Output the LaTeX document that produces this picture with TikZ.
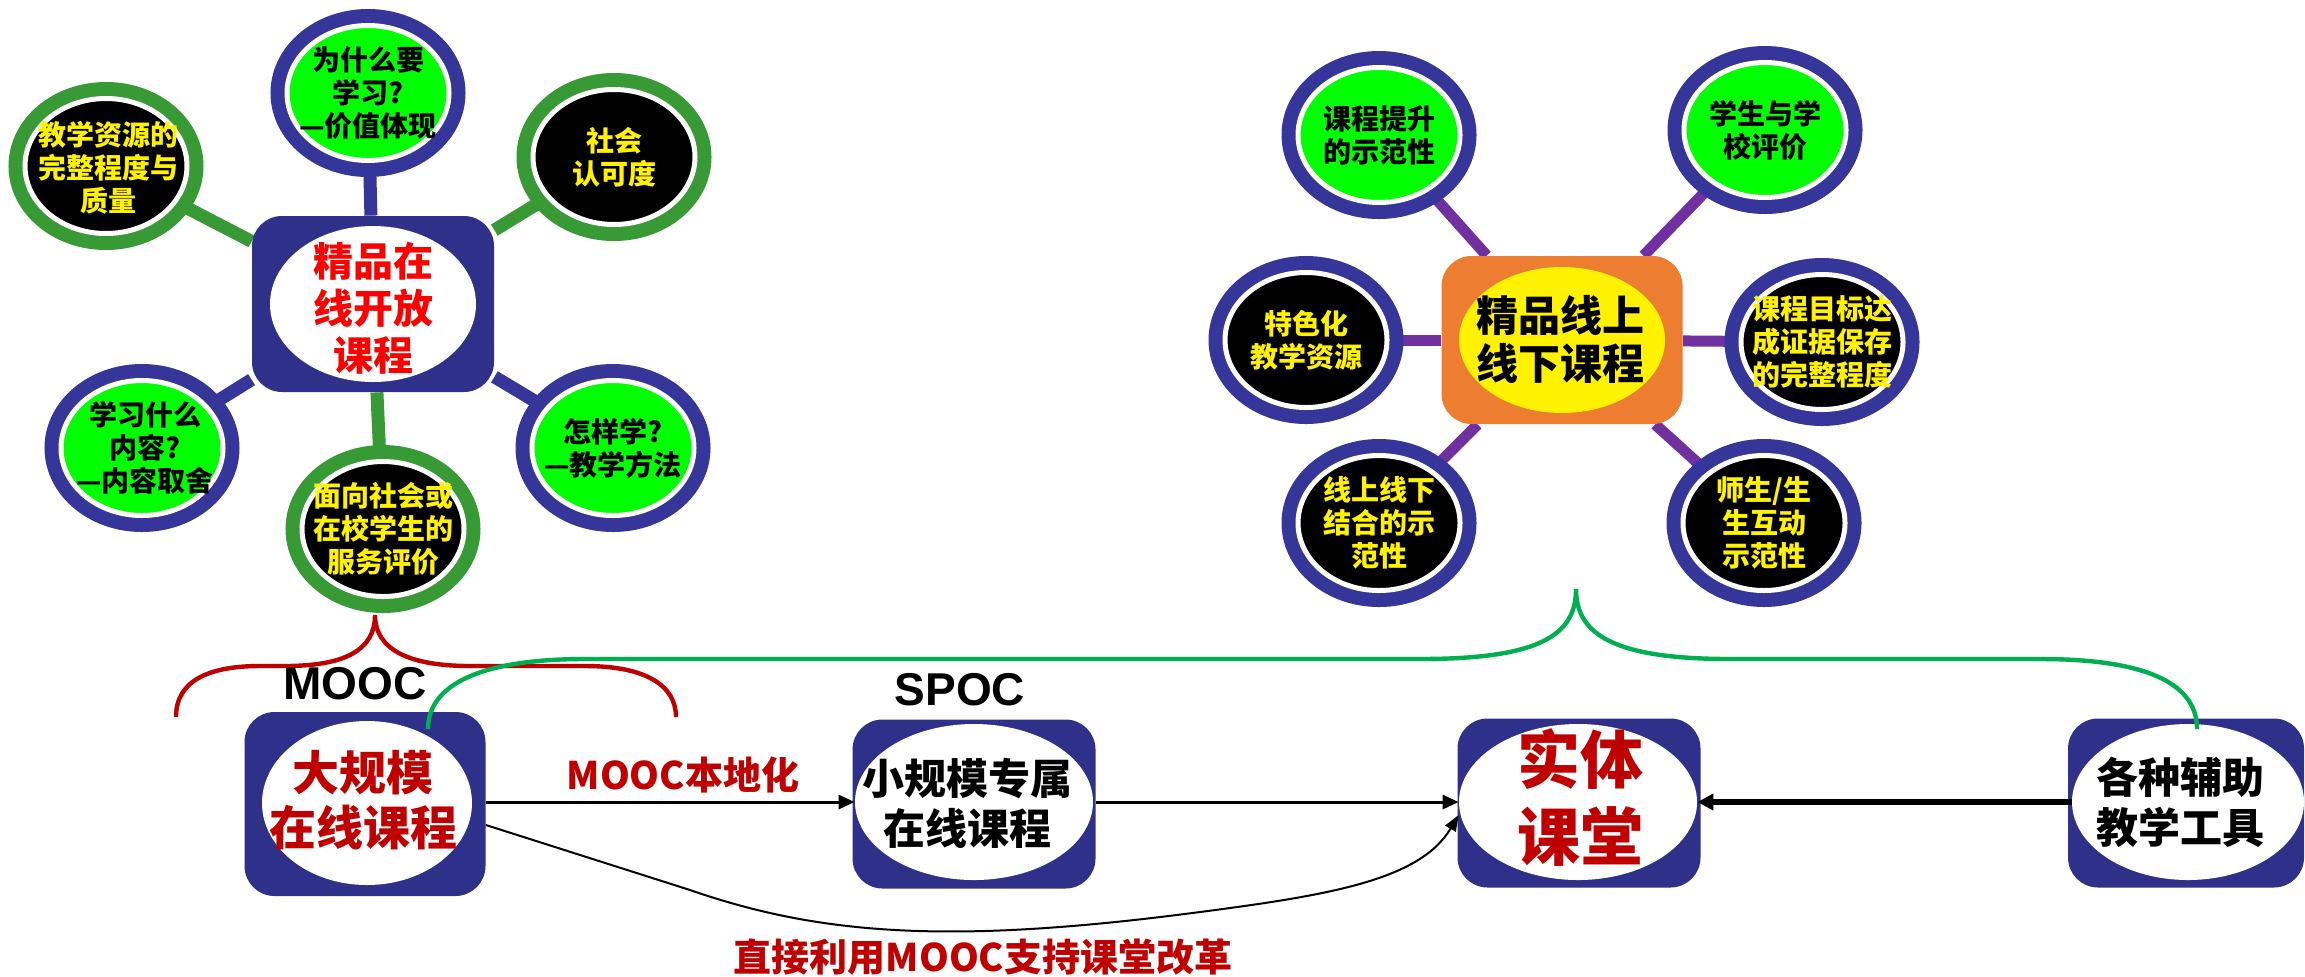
\documentclass[tikz,border=0pt]{standalone}
\usepackage{fontspec}
\setmainfont{Liberation Sans}
\newfontfamily\cjk{Noto Sans CJK SC}
\usetikzlibrary{shapes.geometric,arrows.meta}
\definecolor{navy}{HTML}{2E3089}
\definecolor{ringblue}{HTML}{35359A}
\definecolor{ringgreen}{HTML}{389A35}
\definecolor{lime}{HTML}{00FF00}
\definecolor{purp}{HTML}{7030A0}
\definecolor{dred}{HTML}{C00000}
\definecolor{bgreen}{HTML}{00B050}
\definecolor{orng}{HTML}{ED7D31}
\pgfdeclarelayer{bg}
\pgfsetlayers{bg,main}
\begin{document}
\begin{tikzpicture}[x=0.5pt,y=-0.5pt,
  bub/.style 2 args={ellipse, inner sep=0pt, minimum width=81pt, minimum height=67.5pt,
    fill=#2, draw=white, line width=2.5pt, preaction={draw=#1, line width=16.5pt}},
  ctext/.style={font=\cjk\bfseries\fontsize{14pt}{16.5pt}\selectfont, align=center, inner sep=0pt, text=#1},
  rbox/.style={rectangle, rounded corners=15pt, inner sep=0pt, fill=#1},
  wel/.style={ellipse, inner sep=0pt, fill=#1},
  lbar/.style={line width=6.5pt, draw=#1},
  rbar/.style={line width=5.5pt, draw=purp},
  bigtxt/.style 2 args={font=\cjk\bfseries\fontsize{#1pt}{#2pt}\selectfont, align=center, inner sep=0pt},
  arr/.style={-{Triangle[length=8pt,width=7pt]}, line width=1.5pt},
  latin/.style={font=\bfseries\fontsize{23pt}{27pt}\selectfont, inner sep=0pt},
  redlbl/.style={text=dred, font=\cjk\bfseries\fontsize{19pt}{22pt}\selectfont, inner sep=0pt}
]
\useasboundingbox (0,0) rectangle (2305,976);

% ---------- left cluster ----------
\node[rbox=navy, minimum width=121pt, minimum height=88pt] (lbox) at (373,304) {};
\node[wel=white, minimum width=103pt, minimum height=78pt] (lell) at (373,304) {};
\node[text=red, bigtxt={20}{23.5}] (ltxt) at (373,308) {精品在\\线开放\\课程};

\node[bub={ringblue}{lime}] (l1) at (368,93) {};
\node[ctext=black] (l1t) at (l1) {为什么要\\学习?\\—价值体现};
\node[bub={ringgreen}{black}] (l2) at (614,157) {};
\node[ctext=yellow] (l2t) at (l2) {社会\\认可度};
\node[bub={ringgreen}{black}] (l3) at (106,166) {};
\node[ctext=yellow] (l3t) at (108,168) {教学资源的\\完整程度与\\质量};
\node[bub={ringblue}{lime}] (l4) at (142,448) {};
\node[ctext=black] (l4t) at (145,448) {学习什么\\内容?\\—内容取舍};
\node[bub={ringblue}{lime}] (l5) at (613,448) {};
\node[ctext=black] (l5t) at (l5) {怎样学?\\—教学方法};
\node[bub={ringgreen}{black}] (l6) at (383,529) {};
\node[ctext=yellow] (l6t) at (l6) {面向社会或\\在校学生的\\服务评价};

% ---------- right cluster ----------
\node[rbox=orng, minimum width=120.5pt, minimum height=84pt] (rbx) at (1562,340) {};
\node[wel=yellow, minimum width=103pt, minimum height=73pt] (rell) at (1562,340) {};
\node[text=black, bigtxt={21}{24}] (rtxt) at (1560,339) {精品线上\\线下课程};

\node[bub={ringblue}{lime}] (r1) at (1379,135) {};
\node[ctext=black] (r1t) at (r1) {课程提升\\的示范性};
\node[bub={ringblue}{lime}] (r2) at (1765,130) {};
\node[ctext=black] (r2t) at (r2) {学生与学\\校评价};
\node[bub={ringblue}{black}] (r3) at (1306,340) {};
\node[ctext=yellow] (r3t) at (r3) {特色化\\教学资源};
\node[bub={ringblue}{black}] (r4) at (1822,342) {};
\node[ctext=yellow] (r4t) at (r4) {课程目标达\\成证据保存\\的完整程度};
\node[bub={ringblue}{black}] (r5) at (1379,523) {};
\node[ctext=yellow] (r5t) at (r5) {线上线下\\结合的示\\范性};
\node[bub={ringblue}{black}] (r6) at (1764,523) {};
\node[ctext=yellow] (r6t) at (r6) {师生/生\\生互动\\示范性};

% ---------- connectors of the clusters ----------
\begin{pgfonlayer}{bg}
\draw[lbar=ringblue] (l1) -- (lbox);
\draw[lbar=ringgreen] (l2) -- (lbox);
\draw[lbar=ringgreen] (l3) -- (lbox);
\draw[lbar=ringblue] (l4) -- (lbox);
\draw[lbar=ringblue] (l5) -- (lbox);
\draw[lbar=ringgreen] (l6) -- (lbox);
\draw[rbar] (r1) -- (rbx);
\draw[rbar] (r2) -- (rbx);
\draw[rbar] (r3) -- (rbx);
\draw[rbar] (r4) -- (rbx);
\draw[rbar] (r5) -- (rbx);
\draw[rbar] (r6) -- (rbx);
\end{pgfonlayer}

% ---------- bottom row ----------
\node[rbox=navy, minimum width=120.5pt, minimum height=92pt] (mooc) at (365,804) {};
\node[wel=white, minimum width=105pt, minimum height=82pt] (moocell) at (367,803) {};
\node[text=dred, bigtxt={23.5}{27.5}] (mooct) at (363,800) {大规模\\在线课程};

\node[rbox=navy, minimum width=121.5pt, minimum height=84.5pt] (spoc) at (974,804) {};
\node[wel=white, minimum width=119pt, minimum height=78pt] (spocell) at (974,802) {};
\node[text=black, bigtxt={21}{25}] (spoct) at (967,803) {小规模专属\\在线课程};

\node[rbox=navy, minimum width=121.5pt, minimum height=84.5pt] (shiti) at (1579,803) {};
\node[wel=white, minimum width=119pt, minimum height=78pt] (shitiell) at (1578,802) {};
\node[text=dred, bigtxt={31.5}{38.5}] (shitit) at (1580,798) {实体\\课堂};

\node[rbox=navy, minimum width=118pt, minimum height=84.5pt] (tools) at (2186,803) {};
\node[wel=white, minimum width=116pt, minimum height=78pt] (toolsell) at (2188,802) {};
\node[text=black, bigtxt={21}{25}] (toolst) at (2180,802) {各种辅助\\教学工具};

% arrows
\draw[arr] (mooc.east |- spocell.west) -- (spocell.west);
\draw[arr] (spoc.east |- shitiell.west) -- (shitiell.west);
\draw[-{Triangle[length=8pt,width=8pt]}, line width=3pt] (toolsell.west) -- (shitiell.east);
\draw[-{Triangle[length=8pt,width=6pt]}, line width=1pt]
  ([yshift=-10.5pt]mooc.east) -- (690,890) .. controls (820,935) and (950,945) .. (1200,912)
  .. controls (1330,895) and (1420,880) .. ([yshift=-6.5pt]shitiell.west);

% braces
\coordinate (redtip) at (375,615);
\coordinate (greentip) at (1576,589);
\draw[dred, line width=2.2pt] (176,717) .. controls (176,680) and (210,666) .. (260,666) -- (285,666)
  .. controls (345,666) and (375,650) .. (redtip) .. controls (375,650) and (410,666) .. (470,666)
  -- (585,666) .. controls (645,666) and (676,685) .. (676,717);
\draw[bgreen, line width=2.2pt] (428,729) .. controls (428,685) and (480,659) .. (585,659) -- (1420,659)
  .. controls (1540,659) and (1576,635) .. (greentip) .. controls (1576,635) and (1615,659) .. (1730,659)
  -- (2040,659) .. controls (2160,659) and (2197,690) .. (2197,729);

% labels
\node[latin] (moocl) at (355,684) {MOOC};
\node[latin] (spocl) at (960,690) {SPOC};
\node[redlbl] (local) at (683,775) {MOOC本地化};
\node[redlbl] (direct) at (983,957) {直接利用MOOC支持课堂改革};
\end{tikzpicture}
\end{document}
